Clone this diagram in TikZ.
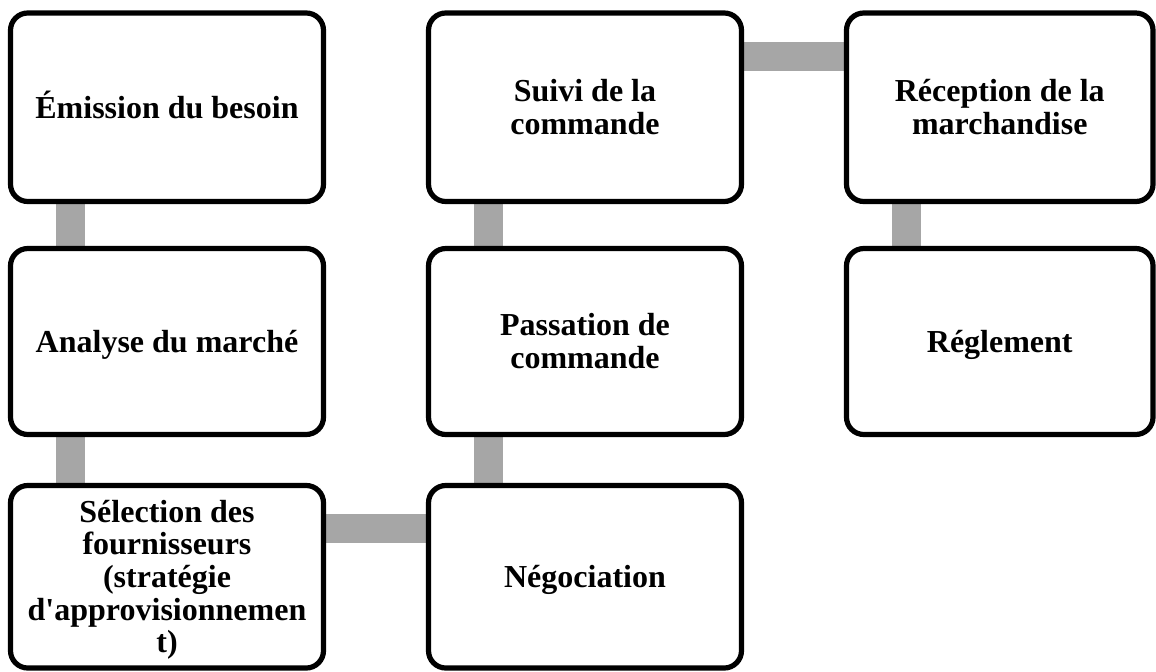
\documentclass[tikz,border=0pt]{standalone}
\usepackage{fontspec}
\setmainfont{Liberation Serif}
\usetikzlibrary{backgrounds}
\definecolor{linkgray}{RGB}{166,166,166}
\begin{document}
\begin{tikzpicture}[x=0.75pt,y=-0.75pt,
  stepbox/.style={draw=black, line width=3.9pt, rounded corners=13pt, fill=white,
    align=center, inner sep=3pt, text depth=5.2pt,
    font=\bfseries\fontsize{24}{24.5}\selectfont},
  % fixed line metrics so that every text block sits like a word-processor line
  lines1/.style={text height=21.4pt},
  lines2/.style={text height=45.9pt},
  lines5/.style={text height=119.4pt},
  wide/.style={minimum width=234.75pt},
  narrow/.style={minimum width=229.9pt},
  rowa/.style={minimum height=141.4pt},
  rowb/.style={minimum height=139.5pt},
  rowc/.style={minimum height=136.9pt},
  link/.style={draw=linkgray, line width=21.75pt, line cap=butt}]
\useasboundingbox (0,0) rectangle (1156,671);

% process steps, column by column
\node[stepbox,wide,rowa,lines1]   (emission)   at (167,107.25)    {Émission du besoin};
\node[stepbox,wide,rowb,lines1]   (analyse)    at (167,341.5)     {Analyse du marché};
\node[stepbox,wide,rowc,lines5]   (selection)  at (167,576.75)    {Sélection des\\fournisseurs\\(stratégie\\d\textquotesingle approvisionnemen\\t)};
\node[stepbox,wide,rowc,lines1]   (negoc)      at (585,576.75)    {Négociation};
\node[stepbox,wide,rowb,lines2]   (passation)  at (585,341.5)     {Passation de\\commande};
\node[stepbox,wide,rowa,lines2]   (suivi)      at (585,107.25)    {Suivi de la\\commande};
\node[stepbox,narrow,rowa,lines2] (reception)  at (999.75,107.25) {Réception de la\\marchandise};
\node[stepbox,narrow,rowb,lines1] (reglement)  at (999.75,341.5)  {Réglement};

% links between consecutive steps, behind the boxes
\begin{scope}[on background layer]
  \draw[link] ([xshift=47.25pt]emission.south west) -- ([xshift=47.25pt]analyse.north west);
  \draw[link] ([xshift=47.25pt]analyse.south west) -- ([xshift=47.25pt]selection.north west);
  \draw[link] ([yshift=-34.5pt]selection.north east) -- ([yshift=-34.5pt]negoc.north west);
  \draw[link] ([xshift=47.25pt]negoc.north west) -- ([xshift=47.25pt]passation.south west);
  \draw[link] ([xshift=47.25pt]passation.north west) -- ([xshift=47.25pt]suivi.south west);
  \draw[link] ([yshift=-34.5pt]suivi.north east) -- ([yshift=-34.5pt]reception.north west);
  \draw[link] ([xshift=47.25pt]reception.south west) -- ([xshift=47.25pt]reglement.north west);
\end{scope}
\end{tikzpicture}
\end{document}
